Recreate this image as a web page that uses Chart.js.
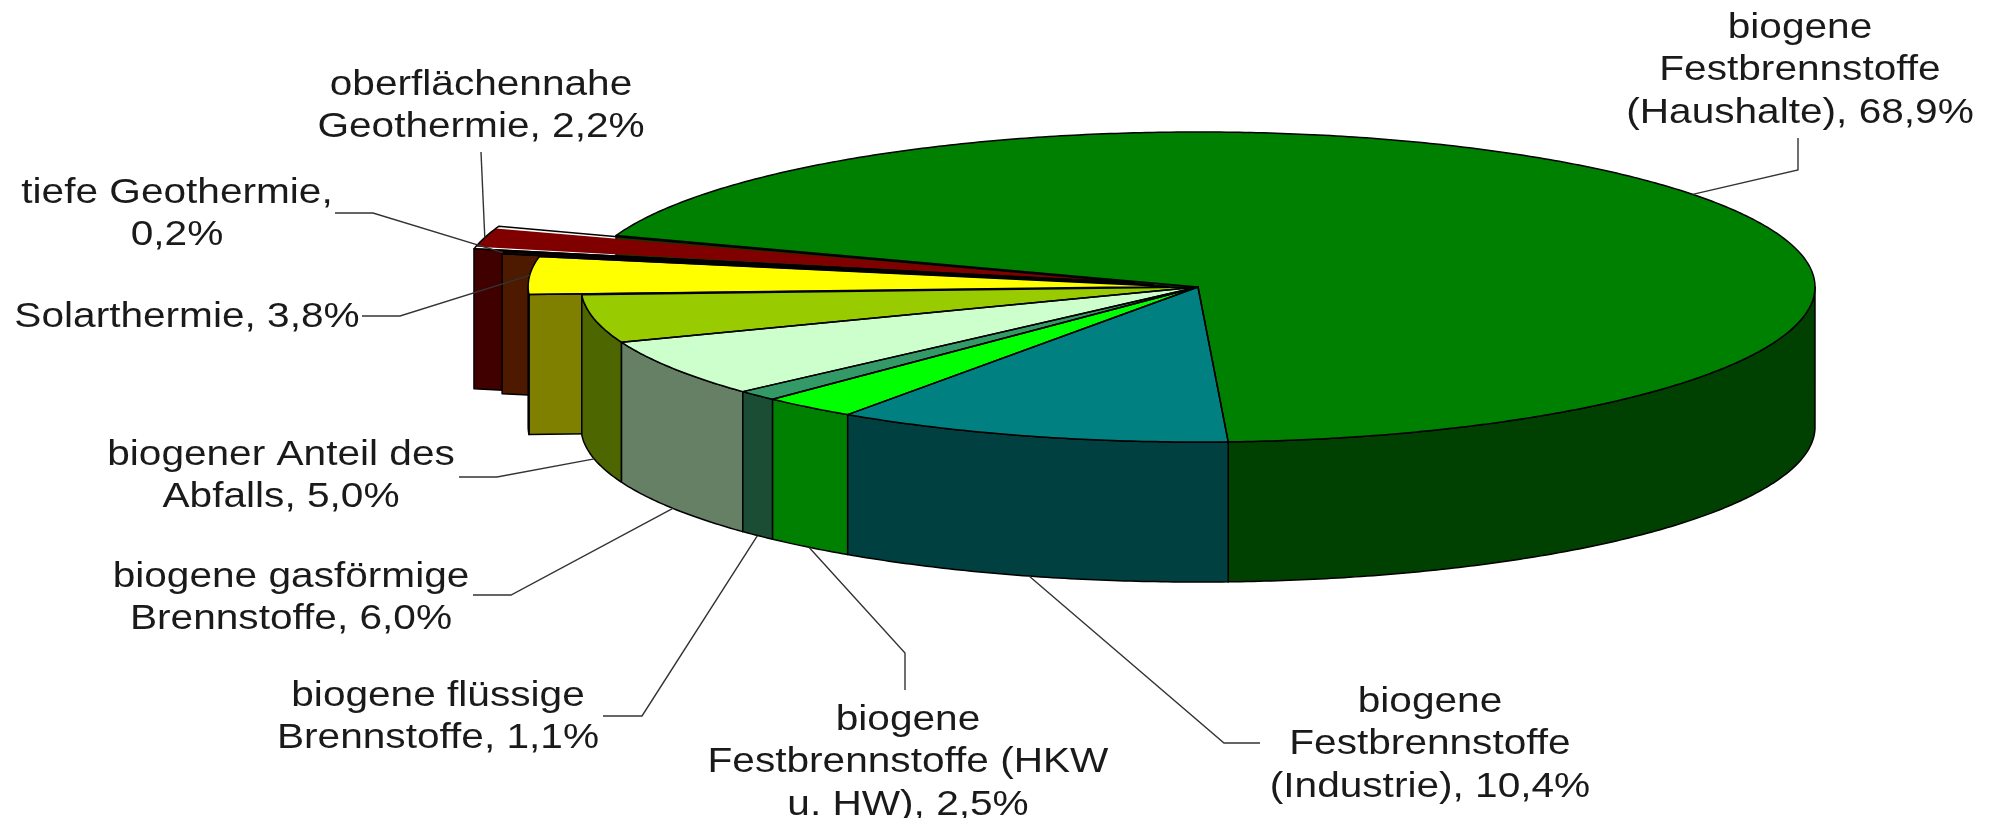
<!DOCTYPE html>
<html lang="de">
<head>
<meta charset="utf-8">
<title>Wärme aus erneuerbaren Energien</title>
<script src="https://cdn.jsdelivr.net/npm/chart.js@4.4.0/dist/chart.umd.min.js"></script>
<style>
  html, body { margin: 0; padding: 0; background: #fff; }
  #wrap { width: 1998px; height: 818px; position: relative; }
</style>
</head>
<body>
<div id="wrap"><canvas id="pie"></canvas></div>
<script>
// Anteile der erneuerbaren Energien an der Wärmebereitstellung
const categories = [
  'biogene Festbrennstoffe (Haushalte)',
  'biogene Festbrennstoffe (Industrie)',
  'biogene Festbrennstoffe (HKW u. HW)',
  'biogene flüssige Brennstoffe',
  'biogene gasförmige Brennstoffe',
  'biogener Anteil des Abfalls',
  'Solarthermie',
  'tiefe Geothermie',
  'oberflächennahe Geothermie'
];
const shares = [68.9, 10.4, 2.5, 1.1, 6.0, 5.0, 3.8, 0.2, 2.2];

// styling
const topColors  = ['#008000', '#008080', '#00FF00', '#339966', '#CCFFCC', '#99CC00', '#FFFF00', '#993300', '#800000'];
const sideColors = ['#004000', '#004040', '#008000', '#1A4D33', '#668066', '#4D6600', '#808000', '#4D1A00', '#400000'];
const explode = [0, 0, 0, 0, 0, 0, 30, 46, 66];   // pixels the slice is pulled out

const RADIUS = 617;
const K = 155 / 617;      // vertical squash of the pie top
const DEPTH = 140;        // height of the pie walls
const OFFSET_DIV = parseInt(Chart.version, 10) >= 4 ? 4 : 2;

// where the data labels sit, and how each label is broken into lines (words per line)
const labelLayout = [
  { x: 1800, y: 28,  words: [1, 1, 2], leader: [[1798, 138], [1798, 170]] },
  { x: 1430, y: 702, words: [1, 1, 2], leader: [[1260, 743], [1224, 743]] },
  { x: 908,  y: 720, words: [1, 2, 3], leader: [[905, 690], [905, 653]] },
  { x: 438,  y: 696, words: [2, 2],    leader: [[603, 716], [642, 716]] },
  { x: 291,  y: 577, words: [2, 2],    leader: [[473, 595], [511, 595]] },
  { x: 281,  y: 455, words: [3, 2],    leader: [[459, 477], [497, 477]] },
  { x: 187,  y: 317, words: [2],       leader: [[362, 316], [400, 316]] },
  { x: 177,  y: 193, words: [2, 1],    leader: [[335, 213], [373, 213]] },
  { x: 481,  y: 85,  words: [1, 2],    leader: [[481, 152]] }
];
const LINE_H = 42.5;

function arcGeom(arc) {
  const p = arc.getProps(['x', 'y', 'startAngle', 'endAngle', 'outerRadius', 'circumference']);
  const o = (arc.options.offset || 0) / OFFSET_DIV;
  const mid = (p.startAngle + p.endAngle) / 2;
  const fix = 1 - Math.sin(Math.min(Math.PI, p.circumference || 0));
  return {
    cx: p.x + Math.cos(mid) * o,
    cy: p.y + Math.sin(mid) * o,
    r: p.outerRadius + o * fix,
    s: p.startAngle,
    e: p.endAngle,
    mid: mid,
    y0: p.y
  };
}

// flat pie coordinates -> screen (squashed around the pie centre)
function project(g, a, r) {
  const ux = g.cx + Math.cos(a) * r;
  const uy = g.cy + Math.sin(a) * r;
  return [ux, g.y0 + (uy - g.y0) * K];
}

const pie3d = {
  id: 'pie3d',
  beforeDatasetsDraw(chart) {
    const ctx = chart.ctx;
    const geoms = chart.getDatasetMeta(0).data.map(arcGeom);
    ctx.save();
    ctx.lineWidth = 1.5;
    ctx.strokeStyle = '#000';
    ctx.lineJoin = 'round';

    // radial cut faces that turn toward the viewer
    const cuts = [];
    geoms.forEach((g, i) => {
      if (Math.cos(g.s) < 0) cuts.push({ g, i, a: g.s });
      if (Math.cos(g.e) > 0) cuts.push({ g, i, a: g.e });
    });
    cuts.forEach(c => { c.key = project(c.g, c.a, c.g.r / 2)[1]; });
    cuts.sort((p, q) => p.key - q.key);
    cuts.forEach(c => {
      const p0 = project(c.g, c.a, 0);
      const p1 = project(c.g, c.a, c.g.r);
      ctx.beginPath();
      ctx.moveTo(p0[0], p0[1]);
      ctx.lineTo(p1[0], p1[1]);
      ctx.lineTo(p1[0], p1[1] + DEPTH);
      ctx.lineTo(p0[0], p0[1] + DEPTH);
      ctx.closePath();
      ctx.fillStyle = sideColors[c.i];
      ctx.fill();
      ctx.stroke();
    });

    // outer walls, front half only
    const walls = [];
    geoms.forEach((g, i) => {
      for (let k = -2; k <= 2; k++) {
        const lo = Math.max(g.s, 2 * Math.PI * k);
        const hi = Math.min(g.e, 2 * Math.PI * k + Math.PI);
        if (hi > lo) walls.push({ g, i, lo, hi, key: project(g, (lo + hi) / 2, g.r)[1] });
      }
    });
    walls.sort((p, q) => p.key - q.key);
    walls.forEach(w => {
      const n = Math.max(2, Math.ceil((w.hi - w.lo) / 0.01));
      ctx.beginPath();
      for (let j = 0; j <= n; j++) {
        const p = project(w.g, w.lo + (w.hi - w.lo) * j / n, w.g.r);
        if (j) ctx.lineTo(p[0], p[1]); else ctx.moveTo(p[0], p[1]);
      }
      for (let j = n; j >= 0; j--) {
        const p = project(w.g, w.lo + (w.hi - w.lo) * j / n, w.g.r);
        ctx.lineTo(p[0], p[1] + DEPTH);
      }
      ctx.closePath();
      ctx.fillStyle = sideColors[w.i];
      ctx.fill();
      ctx.stroke();
    });
    ctx.restore();

    // squash the tops that Chart.js is about to draw
    const cy = geoms[0].y0;
    ctx.save();
    ctx.translate(0, cy);
    ctx.scale(1, K);
    ctx.translate(0, -cy);
  },
  afterDatasetsDraw(chart) {
    const ctx = chart.ctx;
    ctx.restore();
    const geoms = chart.getDatasetMeta(0).data.map(arcGeom);

    // outlines of the tops
    ctx.save();
    ctx.lineWidth = 1.5;
    ctx.strokeStyle = '#000';
    ctx.lineJoin = 'round';
    geoms.forEach(g => {
      const n = Math.max(2, Math.ceil((g.e - g.s) / 0.01));
      const c = project(g, 0, 0);
      ctx.beginPath();
      ctx.moveTo(c[0], c[1]);
      for (let j = 0; j <= n; j++) {
        const p = project(g, g.s + (g.e - g.s) * j / n, g.r);
        ctx.lineTo(p[0], p[1]);
      }
      ctx.closePath();
      ctx.stroke();
    });
    ctx.restore();

    // data labels with leader lines
    ctx.save();
    ctx.strokeStyle = '#333';
    ctx.lineWidth = 1.4;
    ctx.fillStyle = '#1a1a1a';
    ctx.font = '35px "Liberation Sans", Arial, sans-serif';
    ctx.textAlign = 'center';
    ctx.textBaseline = 'middle';
    geoms.forEach((g, i) => {
      const lay = labelLayout[i];
      const front = Math.sin(g.mid) > 0;
      const a = project(g, g.mid, g.r);
      const anchor = front ? [a[0], a[1] + DEPTH] : a;
      ctx.beginPath();
      ctx.moveTo(lay.leader[0][0], lay.leader[0][1]);
      lay.leader.slice(1).forEach(p => ctx.lineTo(p[0], p[1]));
      ctx.lineTo(anchor[0], anchor[1]);
      ctx.stroke();

      const text = categories[i] + ', ' + shares[i].toFixed(1).replace('.', ',') + '%';
      const words = text.split(' ');
      let w = 0;
      lay.words.forEach((cnt, li) => {
        const line = words.slice(w, w + cnt).join(' ');
        w += cnt;
        ctx.save();
        ctx.translate(lay.x, lay.y + li * LINE_H);
        ctx.scale(1.16, 1);
        ctx.fillText(line, 0, 0);
        ctx.restore();
      });
    });
    ctx.restore();
  }
};

new Chart(document.getElementById('pie'), {
  type: 'pie',
  data: {
    labels: categories,
    datasets: [{
      data: shares,
      backgroundColor: topColors,
      borderWidth: 0,
      offset: explode.map(v => v * OFFSET_DIV),
      hoverOffset: 0,
      radius: RADIUS
    }]
  },
  options: {
    responsive: true,
    maintainAspectRatio: false,
    animation: false,
    events: [],
    rotation: -70.6,
    radius: RADIUS,
    layout: { padding: { left: 398, right: 0, top: 0, bottom: 244 } },
    plugins: {
      legend: { display: false },
      tooltip: { enabled: false }
    }
  },
  plugins: [pie3d]
});
</script>
</body>
</html>
